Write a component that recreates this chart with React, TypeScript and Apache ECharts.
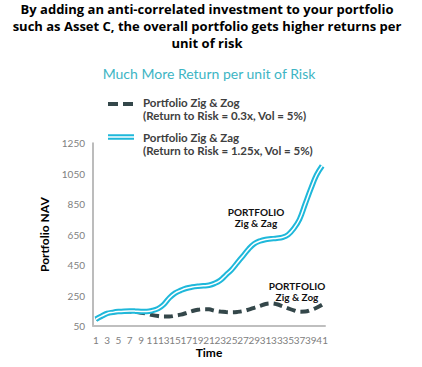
import React, { useEffect, useRef } from "react";
import * as echarts from "echarts";

const timeCategories: string[] = Array.from({ length: 41 }, (_, i) => String(i + 1));

const zagValues: number[] = [
  95, 115, 133, 140, 145, 148, 149, 148, 146, 146,
  152, 165, 192, 235, 266, 284, 298, 306, 311, 314,
  318, 330, 350, 385, 420, 465, 510, 555, 590, 608,
  618, 622, 626, 632, 650, 690, 750, 850, 950, 1040,
  1100,
];

const zogValues: number[] = [
  95, 115, 132, 139, 143, 145, 145, 143, 138, 131,
  122, 116, 113, 113, 118, 125, 136, 148, 157, 161,
  160, 151, 145, 142, 141, 143, 148, 158, 170, 182,
  195, 199, 193, 180, 166, 153, 144, 145, 155, 170,
  190,
];

const titleLines: string[] = [
  "By adding an anti-correlated investment to your portfolio",
  "such as Asset C, the overall portfolio gets higher returns per",
  "unit of risk",
];
const subtitleText = "Much More Return per unit of Risk";
const zogLegend: string[] = ["Portfolio Zig & Zog", "(Return to Risk = 0.3x, Vol = 5%)"];
const zagLegend: string[] = ["Portfolio Zig & Zag", "(Return to Risk = 1.25x, Vol = 5%)"];
const zagLabel: string[] = ["PORTFOLIO", "Zig & Zag"];
const zogLabel: string[] = ["PORTFOLIO", "Zig & Zog"];

const CYAN = "#1fb8da";
const DARK = "#34474a";
const FONT = "Lato";

export default function App() {
  const ref = useRef<HTMLDivElement>(null);
  useEffect(() => {
    if (!ref.current) return;
    const chart = echarts.init(ref.current, undefined, { renderer: "svg" });
    const titleGraphics = titleLines.map((line, i) => ({
      type: "text",
      x: 207,
      y: 9 + i * 17,
      style: {
        text: line,
        fontFamily: "Open Sans",
        fontWeight: "bold",
        fontSize: 13,
        fill: "#000",
        align: "center",
        verticalAlign: "middle",
      },
    }));
    const legendText = (lines: string[], y0: number) =>
      lines.map((line, i) => ({
        type: "text",
        x: 143,
        y: y0 + i * 13,
        style: {
          text: line,
          fontFamily: FONT,
          fontWeight: "bold",
          fontSize: 11.5,
          fill: "#404040",
          verticalAlign: "middle",
        },
      }));
    const annot = (lines: string[], x: number, y0: number) =>
      lines.map((line, i) => ({
        type: "text",
        x,
        y: y0 + i * 11,
        style: {
          text: line,
          fontFamily: FONT,
          fontWeight: "bold",
          fontSize: 10,
          fill: "#111",
          align: "center",
          verticalAlign: "middle",
        },
      }));
    chart.setOption({
      animation: false,
      backgroundColor: "#ffffff",
      title: {
        text: subtitleText,
        left: 204,
        top: 61,
        textAlign: "center",
        textStyle: { fontFamily: FONT, fontWeight: "normal", fontSize: 14, color: "#3db5c4" },
      },
      grid: { left: 93, right: 97, top: 143, bottom: 40, containLabel: false },
      xAxis: {
        type: "category",
        data: timeCategories,
        boundaryGap: true,
        name: "Time",
        nameLocation: "middle",
        nameGap: 20,
        nameTextStyle: { fontFamily: FONT, fontWeight: "bold", fontSize: 12, color: "#000" },
        axisLine: { lineStyle: { color: "#bfbfbf", width: 2 } },
        axisTick: { show: false },
        axisLabel: {
          interval: 0,
          showMinLabel: true,
          showMaxLabel: true,
          fontFamily: FONT,
          fontSize: 10,
          color: "#808080",
          margin: 9,
          formatter: (v: string, idx: number) => (idx % 2 === 0 ? v : ""),
        },
        splitLine: { show: false },
      },
      yAxis: {
        type: "value",
        min: 50,
        max: 1250,
        interval: 200,
        name: "Portfolio NAV",
        nameLocation: "middle",
        nameGap: 32,
        nameTextStyle: { fontFamily: FONT, fontWeight: "bold", fontSize: 12, color: "#000" },
        axisLine: { show: true, lineStyle: { color: "#a6a6a6", width: 1.5 } },
        axisTick: { show: false },
        axisLabel: {
          fontFamily: FONT,
          fontSize: 10,
          color: "#808080",
          margin: 8,
          formatter: (v: number) => String(v),
        },
        splitLine: { show: false },
      },
      series: [
        {
          name: "Portfolio Zig & Zog",
          type: "line",
          data: zogValues,
          smooth: 0.4,
          showSymbol: false,
          lineStyle: { color: DARK, width: 4, type: [9, 5], cap: "butt" },
          z: 2,
        },
        {
          name: "Portfolio Zig & Zag",
          type: "line",
          data: zagValues,
          smooth: 0.4,
          showSymbol: false,
          lineStyle: { color: CYAN, width: 5.5 },
          z: 3,
        },
        {
          name: "Zag inner",
          type: "line",
          data: zagValues,
          smooth: 0.4,
          showSymbol: false,
          silent: true,
          lineStyle: { color: "#ffffff", width: 1.5 },
          z: 4,
        },
      ],
      graphic: [
        ...titleGraphics,
        {
          type: "line",
          shape: { x1: 108, y1: 104, x2: 134, y2: 104 },
          style: { stroke: DARK, lineWidth: 4, lineDash: [10, 5] },
        },
        ...legendText(zogLegend, 102),
        {
          type: "line",
          shape: { x1: 108, y1: 137, x2: 134, y2: 137 },
          style: { stroke: CYAN, lineWidth: 5.5 },
        },
        {
          type: "line",
          shape: { x1: 108, y1: 137, x2: 134, y2: 137 },
          style: { stroke: "#ffffff", lineWidth: 1.5 },
        },
        ...legendText(zagLegend, 137),
        ...annot(zagLabel, 256, 212),
        ...annot(zogLabel, 297, 286),
      ],
    });
    return () => chart.dispose();
  }, []);
  return (
    <div
      ref={ref}
      style={{ position: "fixed", left: 0, top: 0, width: 422, height: 367 }}
    />
  );
}
